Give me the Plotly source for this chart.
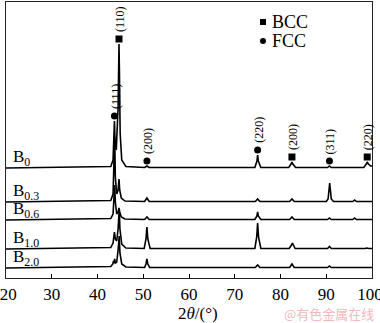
import numpy as np
import plotly.graph_objects as go

# ---------------- data ----------------
SAMPLES = ["B<sub>0</sub>", "B<sub>0.3</sub>", "B<sub>0.6</sub>", "B<sub>1.0</sub>", "B<sub>2.0</sub>"]
OFFSETS = [110, 76, 58, 29, 10]  # vertical stacking of the patterns (a.u.)

TT_B0 = [20, 42.9, 43.4, 43.6, 43.7, 43.85, 44.1, 44.5, 44.65, 44.7, 44.78, 44.95, 45.3, 46.2,
         50.3, 50.8, 51.3, 74.4, 74.85, 75.0, 75.15, 75.7, 81.8, 82.3, 82.5, 82.7, 83.3,
         90.3, 90.7, 91.1, 98.2, 98.75, 98.95, 99.2, 99.7, 100]
I_B0 = [0, 1.5, 8, 30, 47, 25, 18, 60, 110, 124, 100, 35, 8, 1.5,
        0.5, 2, 0.5, 0.5, 7, 13, 7, 0.5, 0.5, 4, 6, 4, 0.5,
        0.5, 2, 0.5, 0.5, 4, 6, 4, 2, 2]

TT_B03 = [20, 42.9, 43.4, 43.6, 43.75, 43.9, 44.2, 44.5, 44.7, 44.85, 45.2, 46.0,
          50.3, 50.8, 51.3, 74.5, 75.0, 75.5, 82.0, 82.5, 83.0,
          90.0, 90.4, 90.6, 90.75, 90.9, 91.1, 91.6, 95.8, 96.2, 96.6, 100]
I_B03 = [0, 1.5, 8, 35, 65, 25, 8, 12, 23, 12, 4, 1,
         0.5, 4, 0.5, 0.5, 3, 0.5, 0.5, 3, 0.5,
         0.5, 3, 12, 19, 12, 3, 0.5, 0.5, 2, 0.5, 0.5]

TT_B06 = [20, 42.9, 43.4, 43.6, 43.75, 43.9, 44.2, 44.5, 44.7, 44.85, 45.2, 46.0,
          50.3, 50.8, 51.3, 74.4, 74.85, 75.0, 75.15, 75.7, 82.0, 82.5, 83.0,
          90.3, 90.7, 91.1, 95.8, 96.2, 96.6, 100]
I_B06 = [0, 1.5, 6, 22, 35, 18, 6, 8, 12, 8, 3, 1,
         0.5, 3, 0.5, 0.5, 4, 8, 4, 0.5, 0.5, 3, 0.5,
         0.5, 2, 0.5, 0.5, 2, 0.5, 0.5]

TT_B10 = [20, 42.9, 43.4, 43.6, 43.7, 43.9, 44.2, 44.5, 44.65, 44.75, 44.9, 45.3, 46.2,
          50.2, 50.6, 50.8, 51.0, 51.5, 74.4, 74.8, 75.0, 75.2, 75.7,
          81.9, 82.4, 82.6, 83.2, 90.3, 90.7, 91.1, 98.5, 98.9, 99.3, 100]
I_B10 = [0, 1.5, 6, 12, 17, 10, 8, 20, 36, 40, 20, 5, 1,
         0.5, 10, 22, 10, 0.5, 0.5, 12, 26, 12, 0.5,
         0.5, 4, 6, 0.5, 0.5, 2.5, 0.5, 0.5, 1, 0.5, 0.5]

TT_B20 = [20, 42.9, 43.35, 43.5, 43.6, 43.75, 43.9, 44.2, 44.5, 44.65, 44.75, 44.9, 45.3, 46.2,
          50.3, 50.6, 50.8, 51.0, 51.4, 74.5, 75.0, 75.5, 82.0, 82.5, 83.0,
          90.3, 90.7, 91.1, 100]
I_B20 = [0, 1.5, 4, 7, 5, 9, 5, 6, 18, 30, 32, 15, 4, 1,
         0.5, 4, 9, 4, 0.5, 0.5, 3, 0.5, 0.5, 4, 0.5,
         0.5, 2, 0.5, 0.5]

SERIES_TT = [TT_B0, TT_B03, TT_B06, TT_B10, TT_B20]
SERIES_I = [I_B0, I_B03, I_B06, I_B10, I_B20]

# peak indexing (marked over the B0 pattern)
HKL_POS = [43.7, 44.7, 50.8, 75.0, 82.5, 90.7, 98.95]
HKL_LABEL = ["(111)", "(110)", "(200)", "(220)", "(200)", "(311)", "(220)"]
HKL_PHASE = ["FCC", "BCC", "FCC", "FCC", "BCC", "FCC", "BCC"]

XTICKS = [20, 30, 40, 50, 60, 70, 80, 90, 100]
XTICKTEXT = ["\u00a020", "30", "40", "50", "60", "70", "80", "90", "100\u00a0"]

# ---------------- figure ----------------
W, H = 380, 323
ML, MR, MT, MB = 6, 8, 2, 45
PW, PH = W - ML - MR, H - MT - MB
SERIF = "Liberation Serif, Times New Roman, serif"


def px_to_paper(px, py):
    return (px - ML) / PW, (H - MB - py) / PH


fig = go.Figure()

for tt, inten, off in zip(SERIES_TT, SERIES_I, OFFSETS):
    fig.add_trace(go.Scatter(
        x=tt, y=[v + off for v in inten], mode="lines",
        line=dict(color="black", width=1.6), showlegend=False, hoverinfo="skip"))

# markers over the B0 peaks
b0_top = [OFFSETS[0] + float(np.interp(p, TT_B0, I_B0)) + 5 for p in HKL_POS]
for phase, sym in (("BCC", "square"), ("FCC", "circle")):
    xs = [p for p, ph in zip(HKL_POS, HKL_PHASE) if ph == phase]
    ys = [y for y, ph in zip(b0_top, HKL_PHASE) if ph == phase]
    fig.add_trace(go.Scatter(
        x=xs, y=ys, mode="markers", name=phase,
        marker=dict(symbol=sym, size=7, color="black"), showlegend=False, hoverinfo="skip"))

annotations = []
for p, lab, y in zip(HKL_POS, HKL_LABEL, b0_top):
    annotations.append(dict(
        x=p, y=y, xref="x", yref="y", text=lab, textangle=-90, showarrow=False,
        xanchor="center", yanchor="bottom", yshift=5, xshift=1,
        font=dict(family=SERIF, size=12, color="black")))

for name, off in zip(SAMPLES, OFFSETS):
    annotations.append(dict(
        x=px_to_paper(11, 0)[0], y=off, xref="paper", yref="y", text=name,
        showarrow=False, xanchor="left", yanchor="bottom", yshift=-3,
        font=dict(family=SERIF, size=17, color="black")))

# legend block
shapes = []
for phase, py in (("BCC", 22), ("FCC", 41)):
    tx, ty = px_to_paper(270, py)
    annotations.append(dict(
        x=tx, y=ty, xref="paper", yref="paper", text=phase, showarrow=False,
        xanchor="left", yanchor="middle", font=dict(family=SERIF, size=18, color="black")))
    x0, y0 = px_to_paper(260, py + 3)
    x1, y1 = px_to_paper(266, py - 3)
    shapes.append(dict(type="rect" if phase == "BCC" else "circle",
                       xref="paper", yref="paper", x0=x0, y0=y0, x1=x1, y1=y1,
                       fillcolor="black", line=dict(width=0)))

# axis title and watermark
tx, ty = px_to_paper(198, 313)
annotations.append(dict(
    x=tx, y=ty, xref="paper", yref="paper", text="2<i>θ</i>/(°)", showarrow=False,
    xanchor="center", yanchor="middle", font=dict(family=SERIF, size=17, color="black")))
wx, wy = px_to_paper(376, 313)
annotations.append(dict(
    x=wx, y=wy, xref="paper", yref="paper", text="@有色金属在线", showarrow=False,
    xanchor="right", yanchor="middle",
    font=dict(family="Noto Sans CJK SC", size=13, color="#f3b8bc")))

fig.update_layout(
    width=W, height=H, margin=dict(l=ML, r=MR, t=MT, b=MB),
    paper_bgcolor="white", plot_bgcolor="white",
    annotations=annotations, shapes=shapes,
    xaxis=dict(range=[20, 100], tickvals=XTICKS, ticktext=XTICKTEXT,
               ticks="inside", ticklen=4, tickwidth=1, tickcolor="black",
               showline=True, mirror=True, linecolor="#222", linewidth=1.2,
               showgrid=False, zeroline=False, ticklabelstandoff=0,
               ticklabeloverflow="allow", automargin=False,
               tickfont=dict(family=SERIF, size=17, color="black")),
    yaxis=dict(range=[0, PH], showticklabels=False, ticks="", showline=True, mirror=True,
               linecolor="#222", linewidth=1.2, showgrid=False, zeroline=False,
               automargin=False),
)

fig.write_html("out.html", config={"displayModeBar": False},
               post_script="document.body.style.margin='0';")
